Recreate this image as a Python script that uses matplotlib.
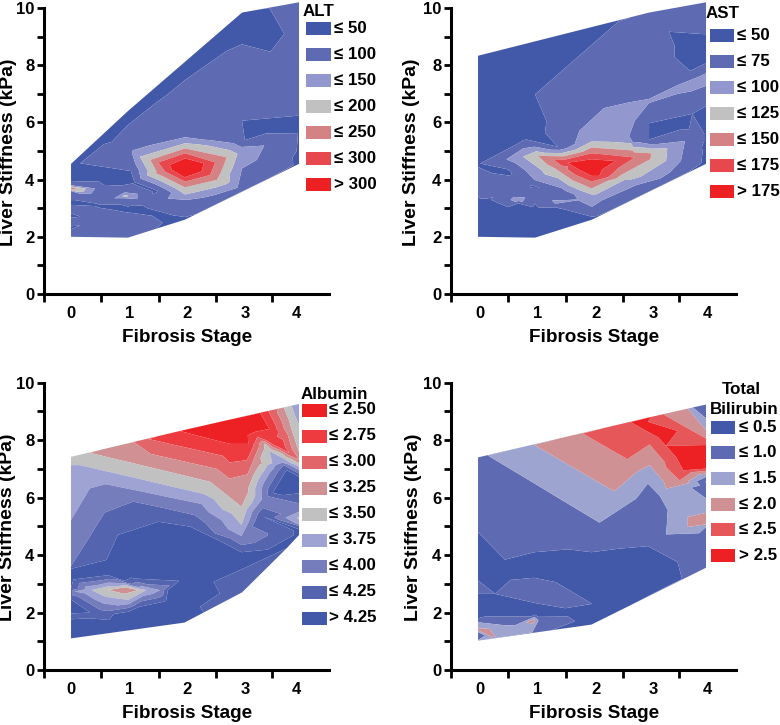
import matplotlib
matplotlib.use("Agg")
import matplotlib.pyplot as plt
import matplotlib.tri as mtri
from matplotlib.patches import Rectangle

plt.rcParams['font.family'] = ['Liberation Sans', 'DejaVu Sans']
plt.rcParams['font.weight'] = 'bold'

# ---------- values: (fibrosis stage, stiffness kPa, lab value) ----------
alt_points = [
    (0,4.55,40),(0.5,5.45,35),(1,6.4,35),(1.5,7.25,35),(2,8.1,35),(2.5,8.97,35),(3,9.84,35),(3.48,10.0,50),(4,10.2,85),(4,8.2,50),
    (3,8.73,50),(2.73,8.5,50),(2.35,7.97,50),(2,7.48,50),(1.5,6.7,50),(1,5.91,50),(0.58,5.24,50),(0.16,4.57,50),
    (3.4,9.2,40),(3.5,8.47,50),(3.74,9.1,50),
    (3,6.78,75),(4,7.23,75),(2,6.5,75),(1,5.15,70),(2.5,7.2,75),(3.5,7.5,75),
    (3,6.06,50),(2.68,5.52,50),(3.05,5.38,50),(4,6.18,48),(4,5.62,48),(3.43,5.7,40),
    (4,5.0,45),(3.9,4.5,50),(3.75,5.05,75),(4,4.55,30),(3,3.6,70),
    (1.08,4.86,100),(2,5.48,100),(2.85,5.27,100),(3.39,5.19,100),(3.26,4.69,100),(3,4.39,100),
    (2.88,3.69,100),(2.03,3.29,100),(1.21,4.16,100),
    (1.21,4.8,150),(2,5.27,150),(2.92,4.9,150),(2.79,3.93,150),(2,3.48,150),(1.33,4.16,150),
    (1.39,4.69,200),(2,5.09,200),(2.73,4.78,200),(2.56,3.99,200),(2,3.73,200),(1.5,4.28,200),
    (1.53,4.6,250),(2,4.92,250),(2.53,4.6,250),(2.44,4.16,250),(2,3.93,250),(1.65,4.28,250),
    (1.73,4.51,300),(2,4.74,300),(2.33,4.57,300),(2.29,4.28,300),(1.99,4.08,300),(1.77,4.34,300),
    (2,4.43,345),
    (0.94,3.43,165),(0.94,3.55,100),(0.94,3.35,100),(0.36,3.52,100),(1.7,3.34,100),
    (0,3.69,230),(0,3.8,100),(0,3.6,100),(0.42,3.69,100),
    (1.05,4.3,50),(0,4.2,40),(0,3.95,50),(1.1,3.9,45),(0.5,3.95,45),(1.5,3.6,45),
    (0.2,3.45,60),(0.65,3.3,60),(0.65,3.68,55),(1.3,3.55,60),(1.3,3.25,60),
    (0,3.45,60),(0,3.2,45),(0,2.95,60),(0,2.75,45),(0,2.5,60),(0,2.3,45),(0,2.2,60),(0,2.0,60),
    (1.25,3.0,45),(1,3.03,45),(1,2.77,52),(1,1.97,55),(0.5,2.6,60),(0.5,3.1,48),
    (1.85,2.7,48),(2,2.6,45),(1.6,3.0,65),(2,3.05,70),(2.5,3.3,70),
]
ast_points = [
    (2.02,4.45,195),
    (0.5,4.71,75),(0.99,5.15,75),(1.99,5.5,75),(3.63,5.35,75),(3.56,4.66,75),(2.78,3.81,75),(2.02,3.31,75),(0.99,3.99,75),
    (0.79,4.8,100),(1.99,5.33,100),(3.32,5.09,100),(3.3,4.66,100),(2.57,3.99,100),(1.99,3.48,100),(1.11,4.34,100),
    (1.05,4.83,125),(1.99,5.12,125),(3.04,4.92,125),(2.51,4.16,125),(1.99,3.69,125),(1.35,4.39,125),
    (1.32,4.71,150),(1.99,4.92,150),(2.75,4.77,150),(2.37,4.22,150),(1.99,3.93,150),(1.58,4.45,150),
    (1.57,4.59,175),(1.99,4.71,175),(2.41,4.65,175),(2.13,4.13,175),(1.99,4.13,175),(1.78,4.34,175),
    (0,8.33,30),(1,8.83,30),(2,9.31,30),(2.46,9.52,50),(3,9.84,60),(4,10.2,60),
    (1,6.98,50),(1.5,7.85,50),(2,8.72,50),(1.2,6.05,50),(1.4,5.15,50),(1.2,8.2,35),(0.8,5.5,40),(0.4,7,35),
    (1.55,5.75,60),(1.78,5.71,75),(2.21,6.5,75),(2.65,6.7,75),(3,6.82,75),
    (3.5,7.3,75),(4,7.72,75),(3.5,7.0,75),(4,7.28,75),(2.2,5.9,90),(2.65,6.1,85),(3,6.75,82),(3.5,7.15,88),(4,7.5,90),
    (3.35,9.17,50),(4,9.08,50),(4,8.07,50),(3.72,7.8,50),(3.75,8.6,40),
    (2.5,8.0,65),(3,7.8,65),(3,8.8,65),(1.8,7.2,60),
    (3,6.68,75),(2.65,5.52,75),
    (2.7,5.5,50),(3,5.97,50),(3.76,6.3,50),(4,6.57,50),(4,5.62,45),(3,5.4,50),(3.5,5.9,40),(4,7.0,60),
    (3.9,5.6,60),(3.83,4.6,60),(4,5.2,45),(4,4.55,40),
    (0,4.55,48),(0.5,4.3,45),(0,4.15,55),(0.7,3.95,55),(0.48,3.87,60),(0,3.6,55),(0.15,3.3,45),(0,3.3,45),(0,3.0,45),(0,2.5,42),(0,2.0,40),
    (0.19,3.52,75),(0.71,3.29,85),(1.4,3.2,80),(2,3.2,90),(1.77,3.29,76),(2.16,3.29,76),(2,3.05,75),
    (0.5,3.55,60),(1,3.5,60),(1.5,3.5,60),(1,3.75,48),
    (0.7,3.15,45),(1.36,3.0,48),(2,2.9,60),(2.3,3.0,60),(2,2.6,45),(3,3.6,60),(3.4,4.0,60),
    (1,1.97,40),(1,3.0,45),(1,2.5,40),(0.5,3.0,45),(0.5,2.4,42),
]
albumin_points = [
    (0,7.42,3.4),(1,7.88,3.1),(2.4,8.54,2.35),(3,8.8,2.35),(2.6,8.2,2.35),(3,8.2,2.35),
    (1.91,8.32,2.5),(2.35,8.09,2.5),(2.79,7.87,2.5),(2.99,7.45,2.5),(3.11,7.87,2.5),(3.23,8.29,2.5),(3.43,8.06,2.5),(3.64,7.83,2.5),(3.48,8.39,2.5),(3.32,8.95,2.5),
    (1.36,8.04,2.75),(1.8,7.84,2.75),(2.23,7.65,2.75),(2.67,7.45,2.75),(2.99,6.84,2.75),(3.13,7.48,2.75),(3.27,8.12,2.75),(3.55,7.84,2.75),(3.83,7.56,2.75),(3.65,8.29,2.75),(3.46,9.02,2.75),
    (0.83,7.78,3.0),(1.4,7.52,3.0),(2.0,7.25,3.0),(2.56,7.0,3.0),(2.78,6.66,3.0),(2.99,6.32,3.0),(3.17,7.15,3.0),(3.35,7.98,3.0),(3.67,7.65,3.0),(3.8,8.2,3.0),(3.61,9.08,3.0),
    (0.33,7.56,3.25),(0.85,7.31,3.25),(1.4,7.05,3.25),(1.9,6.81,3.25),(2.44,6.55,3.25),(2.72,6.11,3.25),(2.99,5.68,3.25),(3.2,6.78,3.25),(3.4,7.89,3.25),(3.7,7.54,3.25),(3.87,8.37,3.25),(3.73,9.14,3.25),
    (0,7.13,3.5),(0.16,7.13,3.5),(0.7,6.88,3.5),(1.25,6.63,3.5),(1.8,6.37,3.5),(2.33,6.13,3.5),(2.66,5.59,3.5),(2.99,5.05,3.5),(3.23,6.33,3.5),(3.48,7.62,3.5),(3.74,7.35,3.5),(3.93,8.86,3.5),(3.87,9.2,3.5),
    (0,5.22,3.75),(0.33,6.32,3.75),(0.6,6.47,3.75),(1.15,6.25,3.75),(1.7,6.02,3.75),(2.29,5.78,3.75),(2.64,5.22,3.75),(2.99,4.66,3.75),(3.35,5.94,3.75),(3.71,7.22,3.75),
    (0,3.62,4.0),(0.3,4.55,4.0),(0.59,5.48,4.0),(1.09,5.86,4.0),(1.6,5.65,4.0),(2.17,5.39,4.0),(2.52,4.76,4.0),(2.99,4.35,4.0),(3.73,7.13,4.0),
    (0.65,3.3,4.25),(0.62,3.83,4.25),(0.82,4.7,4.25),(1.53,5.16,4.25),(2.09,4.99,4.25),(2.6,4.5,4.25),(2.99,4.1,4.25),
    (3.78,6.96,4.25),(3.37,5.34,4.25),(3.6,6.2,4.35),
    (4,9.26,3.72),(4,8.53,3.5),(4,7.6,3.25),(4,7.33,3.0),(4,7.19,3.25),(4,7.08,3.5),(4,6.96,3.75),(4,6.84,4.0),
    (4,6.73,4.25),(4,6.44,4.4),(4,6.15,4.25),(4,5.8,4.0),(4,5.51,3.75),(4,5.28,3.45),(4,5.08,3.7),(4,4.99,4.1),
    (4,4.87,4.3),(4,4.7,4.3),
    (0,3.5,4.3),(1.5,4.0,4.4),(1.0,4.2,4.4),(2.5,3.9,4.4),(1,3.3,4.4),(2,3.2,4.4),(3.5,4.15,4.3),
    (2.5,3.07,4.25),(2.99,3.5,4.25),(3.78,4.23,4.25),(2.61,2.67,4.25),(2.26,2.2,4.25),(3,2.7,4.15),
    (0.94,2.78,3.1),
    (0.65,2.78,3.25),(0.94,2.88,3.25),(1.18,2.78,3.25),(0.94,2.65,3.25),
    (0.36,2.78,3.5),(0.94,2.96,3.5),(1.32,2.78,3.5),(1.0,2.44,3.5),
    (0.06,2.73,3.75),(0.94,3.02,3.75),(1.56,2.78,3.75),(1.03,2.3,3.75),
    (0,2.85,4.25),(0.94,3.1,4.25),(1.7,2.78,4.25),(1.2,2.2,4.25),(0,2.45,4.25),
    (0,3.2,4.35),(0,2.2,4.35),(0,1.85,4.2),(0,1.6,4.35),(0,1.1,4.35),(1,1.42,4.35),(1.99,1.65,4.3),
    (1,2.0,4.3),(0.5,1.9,4.2),(1.7,2.3,4.4),
]
bilirubin_points = [
    (0,7.4,0.6),(0.17,7.47,1.0),(0.99,7.83,1.5),(1.84,8.23,2.0),(2.68,8.63,2.5),(3.04,8.81,2.5),(3.25,8.9,2.0),
    (3.68,9.1,1.5),(3.77,9.14,1.0),
    (2.23,7.78,2.0),(2.62,7.34,2.0),(3.01,7.85,2.0),(3.27,7.25,2.0),(3.54,6.6,2.0),(3.62,8.48,2.0),
    (2.87,8.41,2.5),(2.98,8.64,2.5),(3.3,7.8,2.5),(3.6,6.95,2.5),(3.5,8.32,2.5),(3.25,8.25,2.8),(3.6,7.5,2.8),
    (1.45,7.3,1.5),(1.9,6.78,1.5),(2.39,6.22,1.5),(3.01,7.13,1.5),(3.3,6.31,1.5),(3.84,8.72,1.5),
    (0.8,6.72,1.0),(1.45,5.94,1.0),(2.13,5.13,1.0),(2.98,6.49,1.0),(3.19,6.06,1.0),
    (4,9.24,0.8),(4,8.76,1.0),(4,8.35,1.5),(4,8.06,2.0),(4,7.83,2.5),(4,7.42,2.8),(4,7.01,2.5),(4,6.93,2.0),
    (4,6.84,1.5),(4,6.72,1.0),(4,6.55,0.45),(4,6.37,0.7),(4,5.97,1.0),(4,5.47,1.5),(4,5.27,1.9),(4,5.07,1.5),
    (4,4.98,1.0),(4,4.63,0.7),(4,3.56,0.7),
    (3.33,5.56,1.0),(3.3,4.72,1.0),(3.68,5.33,1.5),(3.68,4.98,1.5),(3.1,5.3,0.7),(3,5.8,0.7),
    (0,4.8,0.5),(0.47,3.84,0.5),(0.99,4.1,0.5),(1.58,4.2,0.5),(1.99,4.1,0.5),(2.46,4.22,0.5),(2.98,4.31,0.5),
    (3.51,4.28,0.5),(3.5,3.76,0.5),(3.58,3.17,0.5),
    (0.5,6.2,0.75),(1.2,5.5,0.8),(2,4.5,0.65),(0,6.2,0.7),
    (0,3.6,0.35),(0.4,3.35,0.35),(1,3.6,0.35),(2,3.5,0.35),(3,3.5,0.35),(2,2.4,0.45),(2.98,2.59,0.4),(1.99,1.58,0.4),
    (0,3.12,0.5),(0.98,3.21,0.5),(1.36,3.06,0.5),(2.23,2.38,0.5),(2,2.3,0.5),(0.98,2.34,0.5),(0.3,2.65,0.5),(0,2.65,0.5),
    (0.8,2.85,0.7),(1.4,2.65,0.7),(0,2.85,0.7),
    (0,2.3,0.35),(0,1.95,0.35),(1,1.95,0.35),(1,2.1,0.4),(1.6,1.9,0.4),
    (0,1.66,1.0),(1.06,1.72,1.0),(1.47,1.66,1.0),(0.95,1.31,1.0),
    (0,1.8,0.5),(1.06,1.85,0.5),(1.7,1.7,0.5),(1.3,1.39,0.5),
    (0.97,1.73,1.7),(0,1.4,1.7),(0.25,1.15,1.55),(0.6,1.5,1.1),(0,1.55,1.1),(0,1.25,0.45),(0,1.02,1.05),
]

alt_levels = [0, 50, 100, 150, 200, 250, 300, 1000]
ast_levels = [0, 50, 75, 100, 125, 150, 175, 1000]
albumin_levels = [0, 2.50, 2.75, 3.00, 3.25, 3.50, 3.75, 4.00, 4.25, 10]
bilirubin_levels = [0, 0.5, 1.0, 1.5, 2.0, 2.5, 10]

alt_labels = ['≤ 50', '≤ 100', '≤ 150', '≤ 200', '≤ 250', '≤ 300', '> 300']
ast_labels = ['≤ 50', '≤ 75', '≤ 100', '≤ 125', '≤ 150', '≤ 175', '> 175']
albumin_labels = ['≤ 2.50', '≤ 2.75', '≤ 3.00', '≤ 3.25', '≤ 3.50', '≤ 3.75', '≤ 4.00', '≤ 4.25', '> 4.25']
bilirubin_labels = ['≤ 0.5', '≤ 1.0', '≤ 1.5', '≤ 2.0', '≤ 2.5', '> 2.5']

seven_colors = ['#4259A9', '#5E6BB2', '#9297CD', '#C1C1C1', '#D58285', '#E6484D', '#ED2024']
nine_colors = ['#ED2024', '#EE3B3F', '#E2656A', '#D09194', '#C1C1C1', '#9EA3D3', '#757DBC', '#5464AE', '#4259A9']
six_colors = ['#4259A9', '#5E6BB2', '#9EA4D0', '#D09194', '#E6575A', '#ED2024']

stage_labels = ['0', '1', '2', '3', '4']
stiffness_ticks = [0, 2, 4, 6, 8, 10]
W, H = 780, 725
TICKPOS = [-0.47, 0.53, 1.54, 2.54, 3.53]

fig = plt.figure(figsize=(7.8, 7.25), dpi=100)


def fx(p):
    return p / W


def fy(p):
    return 1 - p / H


def panel(left, top, bottom, points, levels, colors, label_pos, ylab_x, xlab_y):
    ax = fig.add_axes([fx(left), fy(bottom), 285 / W, (bottom - top) / H])
    x = [p[0] for p in points]
    y = [p[1] for p in points]
    z = [p[2] for p in points]
    tri = mtri.Triangulation(x, y)
    cs = ax.tricontourf(tri, z, levels=levels, colors=colors, antialiased=True)
    cs.set_clip_on(False)
    ax.set_xlim(-0.474, 4.526)
    ax.set_ylim(0, 10)
    for s in ('top', 'right'):
        ax.spines[s].set_visible(False)
    for s in ('left', 'bottom'):
        ax.spines[s].set_linewidth(2.2)
    ax.set_xticks(TICKPOS)
    ax.set_xticklabels([])
    ax.tick_params(axis='x', which='major', length=5.5, width=2.0)
    ax.set_xticks(label_pos, minor=True)
    ax.set_xticklabels(stage_labels, minor=True, fontsize=12, fontweight='bold')
    ax.tick_params(axis='x', which='minor', length=0, pad=9)
    ax.set_yticks(stiffness_ticks)
    ax.set_yticks([1, 3, 5, 7, 9], minor=True)
    ax.tick_params(axis='y', which='both', length=5, width=2.0, pad=2)
    ax.tick_params(axis='y', which='major', labelsize=12)
    fig.text(fx(ylab_x), fy((top + bottom) / 2 + 1), 'Liver Stiffness (kPa)', rotation=90, ha='center',
             va='center', fontsize=14, fontweight='bold')
    fig.text(fx(left + 143), fy(xlab_y), 'Fibrosis Stage', ha='center', va='center', fontsize=13.6,
             fontweight='bold')
    return ax


def legend(labels, colors, sx, first, step, tx):
    for i, (lab, col) in enumerate(zip(labels, colors)):
        cy = first + step * i
        fig.add_artist(Rectangle((fx(sx), fy(cy + 6.5)), 24.5 / W, 13 / H, transform=fig.transFigure,
                                 facecolor=col, edgecolor='none'))
        fig.text(fx(tx), fy(cy), lab, ha='left', va='center', fontsize=12.2, fontweight='bold')


panel(44, 8, 294, alt_points, alt_levels, seven_colors, [0, 1.02, 2.04, 3.05, 3.95], 9, 337)
panel(451, 8, 294, ast_points, ast_levels, seven_colors, [0.04, 1.05, 2.07, 3.07, 4.03], 412, 337)
panel(44, 382.7, 670, albumin_points, albumin_levels, nine_colors, [0, 1.02, 2.04, 3.05, 3.95], 8, 714)
panel(451, 382.7, 670, bilirubin_points, bilirubin_levels, six_colors, [0.04, 1.05, 2.07, 3.07, 4.03], 413, 714)

legend(alt_labels, seven_colors, 306, 28.3, 26, 334)
legend(ast_labels, seven_colors, 709.5, 35.3, 26.07, 736.7)
legend(albumin_labels, nine_colors, 302, 410, 26, 329)
legend(bilirubin_labels, six_colors, 710.7, 427, 25.7, 739.3)

fig.text(fx(303), fy(12), 'ALT', ha='left', va='center', fontsize=12.2, fontweight='bold')
fig.text(fx(706), fy(13), 'AST', ha='left', va='center', fontsize=12.2, fontweight='bold')
fig.text(fx(300.7), fy(394), 'Albumin', ha='left', va='center', fontsize=12.2, fontweight='bold')
fig.text(fx(741), fy(389), 'Total', ha='center', va='center', fontsize=12.2, fontweight='bold')
fig.text(fx(744), fy(410), 'Bilirubin', ha='center', va='center', fontsize=12.2, fontweight='bold')

fig.savefig('out.png', dpi=100, facecolor='white')
